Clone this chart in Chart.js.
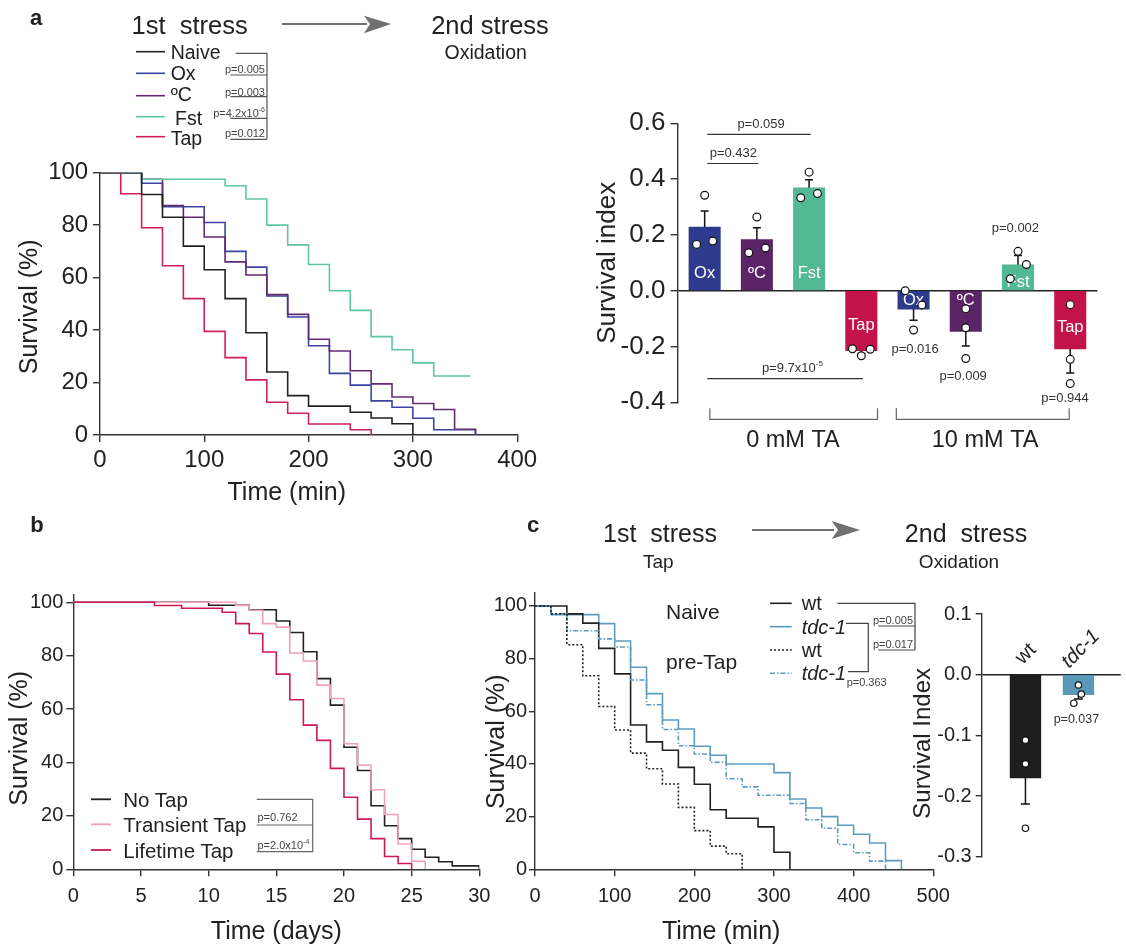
<!DOCTYPE html>
<html>
<head>
<meta charset="utf-8">
<script src="https://cdn.jsdelivr.net/npm/chart.js@4.4.1/dist/chart.umd.min.js"></script>
<style>
  body { margin: 0; background: #fff; }
  #page { position: relative; width: 1126px; height: 946px; overflow: hidden; background: #fff; }
  #page canvas, #page svg { position: absolute; }
  svg text { font-family: "Liberation Sans", Arial, sans-serif; fill: #222; }
</style>
</head>
<body>
<div id="page">
  <canvas id="survA" width="550" height="370" style="left:0;top:140px"></canvas>
  <canvas id="barA" width="546" height="360" style="left:580px;top:100px"></canvas>
  <canvas id="survB" width="520" height="386" style="left:0;top:560px"></canvas>
  <canvas id="survC" width="500" height="386" style="left:460px;top:560px"></canvas>
  <canvas id="barC" width="236" height="290" style="left:890px;top:590px"></canvas>

  <svg width="1126" height="946" style="left:0;top:0">
    <!-- panel letters -->
    <g font-size="22" font-weight="bold" text-anchor="middle">
      <text x="36" y="25">a</text>
      <text x="37" y="531.5">b</text>
      <text x="533" y="531.5">c</text>
    </g>

    <!-- panel a header -->
    <g dominant-baseline="central" text-anchor="middle">
      <text x="189.6" y="25" font-size="25.5">1st&#160; stress</text>
      <text x="490" y="25" font-size="25.5">2nd stress</text>
      <text x="485.7" y="52" font-size="19.5">Oxidation</text>
    </g>
    <line x1="282" y1="24" x2="367" y2="24" stroke="#707070" stroke-width="2"/>
    <polygon points="364,15.7 391,24 364,33.3 370,24" fill="#707070"/>

    <!-- panel a legend -->
    <g stroke-width="1.6">
      <line x1="136" y1="51.7" x2="165" y2="51.7" stroke="#222"/>
      <line x1="136" y1="73.3" x2="165" y2="73.3" stroke="#3a44a0"/>
      <line x1="136" y1="95.7" x2="165" y2="95.7" stroke="#632a72"/>
      <line x1="136" y1="116.7" x2="165" y2="116.7" stroke="#5ec5a0"/>
      <line x1="136" y1="136.7" x2="165" y2="136.7" stroke="#d0205a"/>
    </g>
    <g font-size="19.5" dominant-baseline="central">
      <text x="170.7" y="51.7">Naive</text>
      <text x="170.7" y="73.3">Ox</text>
      <text x="170.7" y="94.3">ºC</text>
      <text x="175" y="118">Fst</text>
      <text x="170.7" y="138.3">Tap</text>
    </g>
    <g stroke="#555" stroke-width="1.2" fill="none">
      <polyline points="235.7,53.3 267,53.3 267,139.3"/>
      <line x1="230.4" y1="75" x2="267" y2="75"/>
      <line x1="230.4" y1="96.7" x2="267" y2="96.7"/>
      <line x1="230.4" y1="118.3" x2="267" y2="118.3"/>
      <line x1="230.4" y1="139.3" x2="267" y2="139.3"/>
    </g>
    <g font-size="11" text-anchor="end" dominant-baseline="central">
      <text x="265" y="69" style="fill:#444">p=0.005</text>
      <text x="265" y="91.7" style="fill:#444">p=0.003</text>
      <text x="265" y="113.3" style="fill:#444">p=4.2x10<tspan font-size="7" dy="-4">-6</tspan></text>
      <text x="265" y="132.7" style="fill:#444">p=0.012</text>
    </g>

    <!-- panel b legend -->
    <g stroke-width="1.8">
      <line x1="91" y1="799.3" x2="111" y2="799.3" stroke="#222"/>
      <line x1="91" y1="824.3" x2="111" y2="824.3" stroke="#f2a2b8"/>
      <line x1="91" y1="850" x2="111" y2="850" stroke="#cc1a52"/>
    </g>
    <g font-size="20.5" dominant-baseline="central">
      <text x="123.3" y="799.3">No Tap</text>
      <text x="123.3" y="824.3">Transient Tap</text>
      <text x="123.3" y="850">Lifetime Tap</text>
    </g>
    <g stroke="#666" stroke-width="1.2" fill="none">
      <polyline points="256.7,799.3 312.7,799.3 312.7,851.7 256.7,851.7"/>
      <line x1="256.7" y1="825" x2="312.7" y2="825"/>
    </g>
    <g font-size="11" dominant-baseline="central">
      <text x="257.5" y="816.7" style="fill:#444">p=0.762</text>
      <text x="257.5" y="845" style="fill:#444">p=2.0x10<tspan font-size="7" dy="-4">-4</tspan></text>
    </g>

    <!-- panel c header -->
    <g dominant-baseline="central" text-anchor="middle">
      <text x="660" y="533.3" font-size="25">1st&#160; stress</text>
      <text x="658.3" y="561.7" font-size="19">Tap</text>
      <text x="966" y="533.3" font-size="25">2nd&#160; stress</text>
      <text x="959" y="561.7" font-size="19">Oxidation</text>
    </g>
    <line x1="752" y1="530" x2="834" y2="530" stroke="#707070" stroke-width="2"/>
    <polygon points="831.7,521 860,530 831.7,539 838,530" fill="#707070"/>

    <!-- panel c legend -->
    <g font-size="21" dominant-baseline="central">
      <text x="666" y="611.7">Naive</text>
      <text x="666" y="661.7">pre-Tap</text>
    </g>
    <g stroke-width="1.6">
      <line x1="770" y1="603.3" x2="791.7" y2="603.3" stroke="#222"/>
      <line x1="770" y1="626.7" x2="791.7" y2="626.7" stroke="#5b9dc0"/>
      <line x1="770" y1="650" x2="791.7" y2="650" stroke="#222" stroke-dasharray="2 2"/>
      <line x1="770" y1="673.3" x2="791.7" y2="673.3" stroke="#5b9dc0" stroke-dasharray="5 2 1.5 2"/>
    </g>
    <g font-size="20" dominant-baseline="central">
      <text x="801.7" y="603.3">wt</text>
      <text x="801.7" y="626.7" font-style="italic">tdc-1</text>
      <text x="801.7" y="650">wt</text>
      <text x="801.7" y="673.3" font-style="italic">tdc-1</text>
    </g>
    <g stroke="#444" stroke-width="1.2" fill="none">
      <polyline points="837.3,603.3 915,603.3 915,650"/>
      <polyline points="846,623.3 868.3,623.3 868.3,671.7 848,671.7"/>
      <line x1="878.3" y1="626" x2="915" y2="626"/>
      <line x1="878.3" y1="650" x2="915" y2="650"/>
    </g>
    <g font-size="11" text-anchor="middle" dominant-baseline="central">
      <text x="893" y="619.5" style="fill:#444">p=0.005</text>
      <text x="893" y="643.5" style="fill:#444">p=0.017</text>
      <text x="866.7" y="681.7" style="fill:#444">p=0.363</text>
    </g>
  </svg>
</div>

<script>
const FONT = '"Liberation Sans", Arial, sans-serif';
Chart.defaults.font.family = FONT;
Chart.defaults.color = '#222';
Chart.defaults.animation = false;
Chart.defaults.plugins.legend.display = false;
Chart.defaults.plugins.tooltip.enabled = false;

// ---- a: survival under oxidation after a 1st stress (min, %) ----
const aTime = [0, 20, 40, 60, 80, 100, 120, 140, 160, 180, 200, 220, 240, 260, 280, 300, 320, 340, 360];
const aNaive = [100, 100, 91.7, 83, 72, 63, 52, 39, 24, 15, 11, 11, 8.7, 6.5, 4.3, 0];
const aOx = [100, 100, 96, 87, 87, 81, 70, 64, 53, 45, 34, 23.5, 19, 13, 10.6, 6.4, 2, 2, 0];
const aHeat = [100, 100, 97.5, 87.5, 83, 75.5, 66, 61, 53.5, 46, 36.5, 32, 24.5, 19.5, 14.5, 12, 9.7, 2.2, 0];
const aTap = [100, 92, 79, 64.5, 52, 39.5, 29.5, 21, 12.5, 8.3, 4.2, 4.2, 2, 0];
const aFstTime = [0, 20, 40, 60, 80, 100, 120, 140, 160, 180, 200, 220, 240, 260, 280, 300, 320, 355];
const aFst = [100, 100, 97.5, 97.5, 97.5, 97.5, 95, 90, 80, 72.5, 65, 55, 47.5, 37.5, 32.5, 27.5, 22.5, 22.5];

// ---- a: survival index bars ----
const aGroups = ['Ox', 'ºC', 'Fst', 'Tap', 'Ox', 'ºC', 'Fst', 'Tap'];
const aMean = [0.228, 0.183, 0.369, -0.215, -0.066, -0.146, 0.093, -0.209];
const aErr = [0.286, 0.226, 0.398, -0.225, -0.106, -0.198, 0.126, -0.295];
const aDots = [
  [0.342, 0.166, 0.178], [0.264, 0.136, 0.153], [0.425, 0.333, 0.348], [-0.208, -0.233, -0.210],
  [0.0, -0.051, -0.141], [-0.065, -0.133, -0.243], [0.141, 0.094, 0.043], [-0.050, -0.246, -0.333]
];
const aBarColors = ['#2d3a8e', '#5b2466', '#52b994', '#c3134b', '#2d3a8e', '#5b2466', '#52b994', '#c3134b'];

// ---- b: lifespan (days, %) ----
const bNoTapT = [0, 10, 13, 15, 16, 17, 18, 19, 20, 21, 22, 23, 24, 25, 26, 27, 28, 30];
const bNoTap = [100, 98.9, 97.2, 93, 88.7, 81.5, 71.4, 61.5, 45.7, 37, 23.8, 16.3, 11.5, 7.5, 4.5, 2.8, 1.3, 0];
const bTransT = [0, 12, 13, 14, 15, 16, 17, 18, 19, 20, 21, 22, 23, 24, 25, 26];
const bTrans = [100, 98.8, 97, 92, 90.7, 81, 78, 69, 64, 47, 39, 29.8, 20.5, 9.5, 3, 0];
const bLifeT = [0, 6, 8, 11, 12, 13, 14, 15, 16, 17, 18, 19, 20, 21, 22, 23, 24, 25];
const bLife = [100, 98.8, 97.8, 96.3, 92, 88.3, 81.4, 73.1, 63.5, 54, 48.3, 37.8, 27, 18.8, 11.5, 4.8, 2.2, 0];

// ---- c: survival under oxidation, wt vs tdc-1 (min, %) ----
const cTime = [0, 20, 40, 60, 80, 100, 120, 140, 160, 180, 200, 220, 240, 260, 280, 300, 320, 340, 360, 380, 400, 420, 440, 460];
const cWtNaive = [100, 100, 97, 93.5, 83.9, 74.2, 54.8, 48.4, 45.2, 38.7, 32.3, 22.6, 19.4, 19.4, 16.1, 6.5, 0];
const cTdcNaive = [100, 96.7, 96.7, 96.7, 93.3, 86.7, 76.7, 66.7, 56.7, 53.3, 46.7, 43.3, 40, 40, 40, 36.7, 26.7, 23.3, 20, 16.7, 13.3, 10, 3.3, 0];
const cWtPre = [100, 97, 85.3, 73.5, 61.8, 52.9, 44.1, 38.2, 32.4, 23.5, 14.7, 8.8, 5.9, 0];
const cTdcPre = [100, 97, 90.6, 90.6, 87.5, 84.4, 71.9, 62.5, 53.1, 46.9, 43.8, 40.6, 34.4, 31.3, 28.1, 28.1, 25, 18.8, 15.6, 9.4, 6.3, 3.1, 0];

// ---- c: survival index bars ----
const cGroups = ['wt', 'tdc-1'];
const cMean = [-0.170, -0.033];
const cErr = [-0.213, -0.040];
const cDots = [[-0.108, -0.147, -0.253], [-0.017, -0.032, -0.047]];
const cBarColors = ['#1e1e1e', '#5a97b8'];

// layout helpers (dot jitter, label spots) kept apart from the data
const aJit = [[0, -0.155, 0.155], [0, -0.155, 0.165], [0, -0.16, 0.16], [-0.17, 0, 0.17],
              [-0.16, 0.16, 0], [0, 0, 0], [0, 0.16, -0.147], [0, 0, 0]];
const aLabelAt = [0.061, 0.061, 0.061, -0.124, -0.035, -0.035, 0.031, -0.130];
const cJit = [[0, 0, 0], [0, 0.055, -0.087]];

function steps(t, s) { return s.map((v, i) => ({ x: t[i], y: v })); }
function survSet(t, s, color, dash) {
  return { data: steps(t, s), borderColor: color, borderWidth: 1.6, borderDash: dash || [],
           pointRadius: 0, stepped: 'before', fill: false, tension: 0 };
}
function dotSet(vals, jit, r) {
  const pts = [];
  vals.forEach((row, i) => row.forEach((v, k) => pts.push({ x: i + jit[i][k], y: v })));
  return { type: 'scatter', data: pts, pointRadius: r, pointBackgroundColor: '#fff',
           pointBorderColor: '#111', pointBorderWidth: 1.2, order: 0 };
}
function fmt0(v) { return String(Math.round(v)); }
function fmt1(v) { return Math.abs(v) < 1e-9 ? '0.0' : v.toFixed(1); }

function axis(o) {
  return {
    type: 'linear', min: o.min, max: o.max, offset: false,
    afterBuildTicks: s => { s.ticks = s.ticks.filter(t => Math.abs(t.value / o.step - Math.round(t.value / o.step)) < 1e-6); },
    ticks: { stepSize: o.step, includeBounds: false, font: { size: o.tick }, padding: o.pad, color: '#222',
             callback: o.fmt || fmt0 },
    grid: { drawOnChartArea: !!o.zero, tickLength: o.tl, tickColor: '#333', tickWidth: 1.4, lineWidth: 1.4,
            color: o.zero ? (c => (c.tick && Math.abs(c.tick.value) < 1e-9 ? '#222' : 'rgba(0,0,0,0)')) : '#333' },
    border: { color: '#333', width: 1.4 },
    title: { display: !!o.title, text: o.title || '', font: { size: o.tsize || 12, lineHeight: 1 },
             padding: o.tpad || 0, color: '#222' },
    afterFit: s => { if (o.w) s.width = o.w; if (o.h) s.height = o.h; }
  };
}

// axis title drawn a little off the axis centre, as in the figure
function axisTitle(id, text, size, pad, shift) {
  return {
    id: 'title_' + id,
    afterDraw(chart) {
      const s = chart.scales[id], c = chart.ctx;
      c.save();
      c.font = size + 'px ' + FONT; c.fillStyle = '#222'; c.textAlign = 'center'; c.textBaseline = 'middle';
      if (id === 'x') {
        c.fillText(text, (s.left + s.right) / 2 + shift, s.bottom - pad - size / 2);
      } else {
        c.translate(s.left + pad + size / 2, (s.top + s.bottom) / 2 + shift);
        c.rotate(-Math.PI / 2);
        c.fillText(text, 0, 0);
      }
      c.restore();
    }
  };
}

function supText(c, x, y, base, sup, size) {
  c.font = size + 'px ' + FONT;
  const wb = c.measureText(base).width;
  c.font = (size * 0.62) + 'px ' + FONT;
  const ws = sup ? c.measureText(sup).width : 0;
  const x0 = x - (wb + ws) / 2;
  c.textAlign = 'left'; c.textBaseline = 'middle';
  c.font = size + 'px ' + FONT;
  c.fillText(base, x0, y);
  if (sup) { c.font = (size * 0.62) + 'px ' + FONT; c.fillText(sup, x0 + wb, y - size * 0.35); }
}

function errorBars(chart, mean, err, cap) {
  const c = chart.ctx, X = v => chart.scales.x.getPixelForValue(v), Y = v => chart.scales.y.getPixelForValue(v);
  c.save();
  c.strokeStyle = '#111'; c.lineWidth = 1.5;
  mean.forEach((m, i) => {
    const x = X(i), y1 = Y(err[i]);
    c.beginPath();
    c.moveTo(x, Y(m)); c.lineTo(x, y1);
    c.moveTo(x - cap, y1); c.lineTo(x + cap, y1);
    c.stroke();
  });
  c.restore();
}

// ---------- a: survival curves ----------
new Chart('survA', {
  type: 'line',
  data: { datasets: [
    survSet(aTime, aNaive, '#222'),
    survSet(aFstTime, aFst, '#5ec5a0'),
    survSet(aTime, aTap, '#d0205a'),
    survSet(aTime, aHeat, '#632a72'),
    survSet(aTime, aOx, '#3a44a0')
  ] },
  options: {
    responsive: false, devicePixelRatio: 1,
    layout: { padding: { left: 0, top: 32.7, right: 32.8, bottom: 0 } },
    scales: {
      x: axis({ min: 0, max: 400, step: 100, tick: 24, pad: 4, tl: 7, h: 75 }),
      y: axis({ min: 0, max: 100, step: 20, tick: 24, pad: 4.7, tl: 7, w: 99.9 })
    }
  },
  plugins: [axisTitle('x', 'Time (min)', 25, 4.2, -21.8), axisTitle('y', 'Survival (%)', 25, 17.5, 3)]
});

// ---------- a: survival index ----------
const aNotes = [
  { text: 'p=0.059', x: 1.08, y: 0.596, line: [0.05, 2.03, 0.560] },
  { text: 'p=0.432', x: 0.55, y: 0.491, line: [0.05, 1.03, 0.456] },
  { text: 'p=9.7x10', sup: '-5', x: 1.68, y: -0.277, line: [0.05, 3.03, -0.315] },
  { text: 'p=0.016', x: 4.03, y: -0.209 },
  { text: 'p=0.009', x: 4.95, y: -0.307 },
  { text: 'p=0.002', x: 5.95, y: 0.224 },
  { text: 'p=0.944', x: 6.9, y: -0.385 }
];
const aBrackets = [
  { from: 0.1, to: 3.31, label: '0 mM TA', lx: 1.69 },
  { from: 3.67, to: 6.98, label: '10 mM TA', lx: 5.37 }
];

new Chart('barA', {
  type: 'bar',
  data: { datasets: [
    { data: aMean.map((v, i) => ({ x: i, y: v })), backgroundColor: aBarColors, barThickness: 31.4,
      borderWidth: 0, order: 2 },
    dotSet(aDots, aJit, 3.9)
  ] },
  options: {
    responsive: false, devicePixelRatio: 1,
    layout: { padding: { left: 0, top: 23.3, right: 28.6, bottom: 57.7 } },
    scales: {
      x: { type: 'linear', display: false, min: -0.518, max: 7.52, offset: false },
      y: axis({ min: -0.4, max: 0.6, step: 0.2, tick: 26, pad: 5.2, tl: 7, title: 'Survival index', tsize: 26,
                tpad: { top: 14.9, bottom: 0 }, w: 97.6, fmt: fmt1, zero: true })
    }
  },
  plugins: [{
    id: 'annA',
    afterDatasetDraw(chart, args) {
      if (args.index !== 0) return;
      errorBars(chart, aMean, aErr, 4);
      const c = chart.ctx, X = v => chart.scales.x.getPixelForValue(v), Y = v => chart.scales.y.getPixelForValue(v);
      c.save();
      c.fillStyle = '#fff'; c.font = '16.5px ' + FONT; c.textAlign = 'center'; c.textBaseline = 'middle';
      aGroups.forEach((g, i) => c.fillText(g, X(i), Y(aLabelAt[i])));
      c.restore();
    },
    afterDraw(chart) {
      const c = chart.ctx, X = v => chart.scales.x.getPixelForValue(v), Y = v => chart.scales.y.getPixelForValue(v);
      c.save();
      c.strokeStyle = '#333'; c.lineWidth = 1.2; c.fillStyle = '#333';
      aNotes.forEach(n => {
        if (n.line) {
          c.beginPath(); c.moveTo(X(n.line[0]), Y(n.line[2])); c.lineTo(X(n.line[1]), Y(n.line[2])); c.stroke();
        }
        supText(c, X(n.x), Y(n.y), n.text, n.sup, 13);
      });
      c.strokeStyle = '#666';
      aBrackets.forEach(b => {
        const yt = Y(-0.421), yb = Y(-0.461);
        c.beginPath();
        c.moveTo(X(b.from), yt); c.lineTo(X(b.from), yb); c.lineTo(X(b.to), yb); c.lineTo(X(b.to), yt);
        c.stroke();
        c.fillStyle = '#222'; c.font = '23.5px ' + FONT; c.textAlign = 'center'; c.textBaseline = 'middle';
        c.fillText(b.label, X(b.lx), Y(-0.536));
      });
      c.restore();
    }
  }]
});

// ---------- b: lifespan ----------
new Chart('survB', {
  type: 'line',
  data: { datasets: [
    survSet(bLifeT, bLife, '#cc1a52'),
    survSet(bTransT, bTrans, '#f2a2b8'),
    survSet(bNoTapT, bNoTap, '#222')
  ] },
  options: {
    responsive: false, devicePixelRatio: 1,
    layout: { padding: { left: 0, top: 34.3, right: 40.7, bottom: 0 } },
    scales: {
      x: axis({ min: 0, max: 30, step: 5, tick: 20, pad: 7.7, tl: 7, title: 'Time (days)', tsize: 25,
                tpad: { top: 0, bottom: 1.8 }, h: 76.7 }),
      y: axis({ min: 0, max: 103, step: 20, tick: 20, pad: 3, tl: 7, w: 73.3 })
    }
  },
  plugins: [axisTitle('y', 'Survival (%)', 25, 7.5, 6.5)]
});

// ---------- c: survival curves ----------
new Chart('survC', {
  type: 'line',
  data: { datasets: [
    survSet(cTime, cWtPre, '#222', [2, 2]),
    survSet(cTime, cTdcPre, '#5b9dc0', [5, 2, 1.5, 2]),
    survSet(cTime, cWtNaive, '#222'),
    survSet(cTime, cTdcNaive, '#5b9dc0')
  ] },
  options: {
    responsive: false, devicePixelRatio: 1,
    layout: { padding: { left: 0, top: 32.8, right: 26.7, bottom: 0 } },
    scales: {
      x: axis({ min: 0, max: 500, step: 100, tick: 20, pad: 7.7, tl: 7, h: 76.7 }),
      y: axis({ min: 0, max: 105, step: 20, tick: 20, pad: 2, tl: 6, w: 75 })
    }
  },
  plugins: [axisTitle('x', 'Time (min)', 25, 1.8, -13), axisTitle('y', 'Survival (%)', 25, 24.5, 10.7)]
});

// ---------- c: survival index ----------
new Chart('barC', {
  type: 'bar',
  data: { datasets: [
    { data: cMean.map((v, i) => ({ x: i, y: v })), backgroundColor: cBarColors, barThickness: 30.7,
      borderWidth: 0, order: 2 },
    dotSet(cDots, cJit, 3.2)
  ] },
  options: {
    responsive: false, devicePixelRatio: 1,
    layout: { padding: { left: 0, top: 24, right: 3, bottom: 23.3 } },
    scales: {
      x: { type: 'linear', display: false, min: -0.826, max: 1.8, offset: false },
      y: axis({ min: -0.3, max: 0.1, step: 0.1, tick: 20, pad: 4, tl: 6, w: 91.7, fmt: fmt1, zero: true })
    }
  },
  plugins: [axisTitle('y', 'Survival Index', 24, 21.3, 8), {
    id: 'annC',
    afterDatasetDraw(chart, args) {
      if (args.index === 0) errorBars(chart, cMean, cErr, 4.5);
    },
    afterDraw(chart) {
      const c = chart.ctx, X = v => chart.scales.x.getPixelForValue(v), Y = v => chart.scales.y.getPixelForValue(v);
      c.save();
      c.fillStyle = '#222'; c.textAlign = 'center'; c.textBaseline = 'middle';
      const spots = [[0.4, -20.7], [2.4, -25.7]];
      cGroups.forEach((g, i) => {
        c.save();
        c.translate(X(i) + spots[i][0], Y(0) + spots[i][1]);
        c.rotate(-Math.PI / 4);
        c.font = (i === 1 ? 'italic ' : '') + '20px ' + FONT;
        c.fillText(g, 0, 0);
        c.restore();
      });
      c.fillStyle = '#333';
      supText(c, X(1) - 2, Y(-0.0746), 'p=0.037', null, 12.5);
      c.restore();
    }
  }]
});
</script>
</body>
</html>
